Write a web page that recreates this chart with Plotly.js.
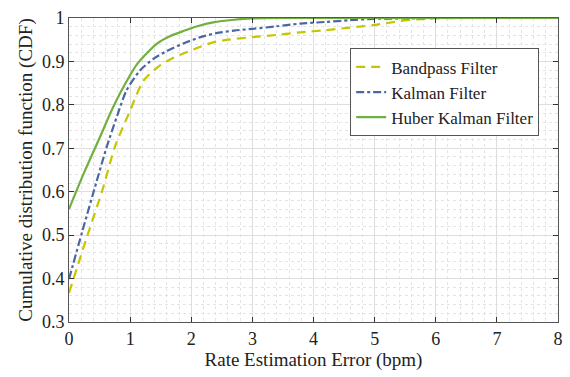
<!DOCTYPE html>
<html>
<head>
<meta charset="utf-8">
<script src="https://cdn.plot.ly/plotly-3.0.1.min.js"></script>
<style>
html,body{margin:0;padding:0;background:#fff;}
#chart{width:570px;height:377px;}
</style>
</head>
<body>
<div id="chart"></div>
<script>
const seriesNames = ["Bandpass Filter", "Kalman Filter", "Huber Kalman Filter"];

const bandpassX = [0, 0.28, 0.56, 0.75, 1.0, 1.22, 1.49, 1.7, 1.92, 2.15, 2.36, 2.6, 3.0, 3.4, 3.78, 4.2, 4.6, 5.0, 5.42, 5.7, 5.97, 6.5, 7, 8];
const bandpassY = [0.367, 0.49, 0.61, 0.703, 0.787, 0.856, 0.891, 0.908, 0.921, 0.934, 0.944, 0.95, 0.956, 0.961, 0.967, 0.972, 0.978, 0.984, 0.993, 0.997, 0.999, 1.0, 1.0, 1.0];

const kalmanX = [0, 0.22, 0.45, 0.617, 0.8, 0.94, 1.16, 1.38, 1.6, 1.92, 2.15, 2.41, 2.7, 3.0, 3.4, 3.78, 4.2, 4.6, 4.98, 5.5, 6, 7, 8];
const kalmanY = [0.399, 0.51, 0.623, 0.703, 0.78, 0.833, 0.879, 0.906, 0.924, 0.944, 0.956, 0.965, 0.971, 0.975, 0.981, 0.987, 0.991, 0.995, 0.998, 0.999, 1.0, 1.0, 1.0];

const huberX = [0, 0.25, 0.507, 0.7, 0.89, 1.12, 1.44, 1.65, 1.87, 2.1, 2.36, 2.7, 3.0, 3.5, 4, 5, 6, 7, 8];
const huberY = [0.56, 0.645, 0.726, 0.788, 0.841, 0.895, 0.941, 0.958, 0.97, 0.981, 0.99, 0.996, 0.999, 1.0, 1.0, 1.0, 1.0, 1.0, 1.0];

const xTicks = [0, 1, 2, 3, 4, 5, 6, 7, 8];
const yTicks = [0.3, 0.4, 0.5, 0.6, 0.7, 0.8, 0.9, 1];
const yTickLabels = ["0.3", "0.4", "0.5", "0.6", "0.7", "0.8", "0.9", "1"];

const FAMILY = "serif";

const traces = [
  {x: bandpassX, y: bandpassY, name: seriesNames[0], mode: "lines", line: {color: "#c6c600", width: 2.2, dash: "9px,6px", shape: "spline", smoothing: 0.7}},
  {x: kalmanX, y: kalmanY, name: seriesNames[1], mode: "lines", line: {color: "#4a66a6", width: 2.2, dash: "8px,3px,3px,3px", shape: "spline", smoothing: 0.7}},
  {x: huberX, y: huberY, name: seriesNames[2], mode: "lines", line: {color: "#72b03e", width: 2.2, shape: "spline", smoothing: 0.7}}
];

const layout = {
  width: 570, height: 377,
  margin: {l: 69, r: 12, t: 18, b: 55},
  paper_bgcolor: "#fff", plot_bgcolor: "#fff",
  font: {family: FAMILY, size: 18, color: "#222"},
  showlegend: true,
  xaxis: {
    showline: true, linecolor: "#555", linewidth: 1, mirror: "ticks",
    ticks: "inside", ticklen: 5, tickcolor: "#333",
    showgrid: true, gridcolor: "#dedede", gridwidth: 1, zeroline: false,
    tickfont: {family: FAMILY, size: 18, color: "#222"},
    range: [0, 8], tickvals: xTicks, ticktext: xTicks.map(String),
    minor: {dtick: 0.2, showgrid: true, gridcolor: "#e4e4e4", griddash: "dot", gridwidth: 1, ticks: ""},
    title: {text: "Rate Estimation Error (bpm)", font: {family: FAMILY, size: 19, color: "#222"}, standoff: 4}
  },
  yaxis: {
    showline: true, linecolor: "#555", linewidth: 1, mirror: "ticks",
    ticks: "inside", ticklen: 5, tickcolor: "#333",
    showgrid: true, gridcolor: "#dedede", gridwidth: 1, zeroline: false,
    tickfont: {family: FAMILY, size: 18, color: "#222"},
    range: [0.3, 1], tickvals: yTicks, ticktext: yTickLabels,
    minor: {dtick: 0.02, showgrid: true, gridcolor: "#e4e4e4", griddash: "dot", gridwidth: 1, ticks: ""},
    title: {text: "Cumulative distribution function (CDF)", font: {family: FAMILY, size: 19, color: "#222"}, standoff: 4}
  },
  legend: {
    x: 0.575, y: 0.9, xanchor: "left", yanchor: "top",
    bgcolor: "#fff", bordercolor: "#555", borderwidth: 1,
    font: {family: FAMILY, size: 17, color: "#222"},
    tracegroupgap: 0
  }
};

Plotly.newPlot("chart", traces, layout, {displayModeBar: false, staticPlot: true});
</script>
</body>
</html>
